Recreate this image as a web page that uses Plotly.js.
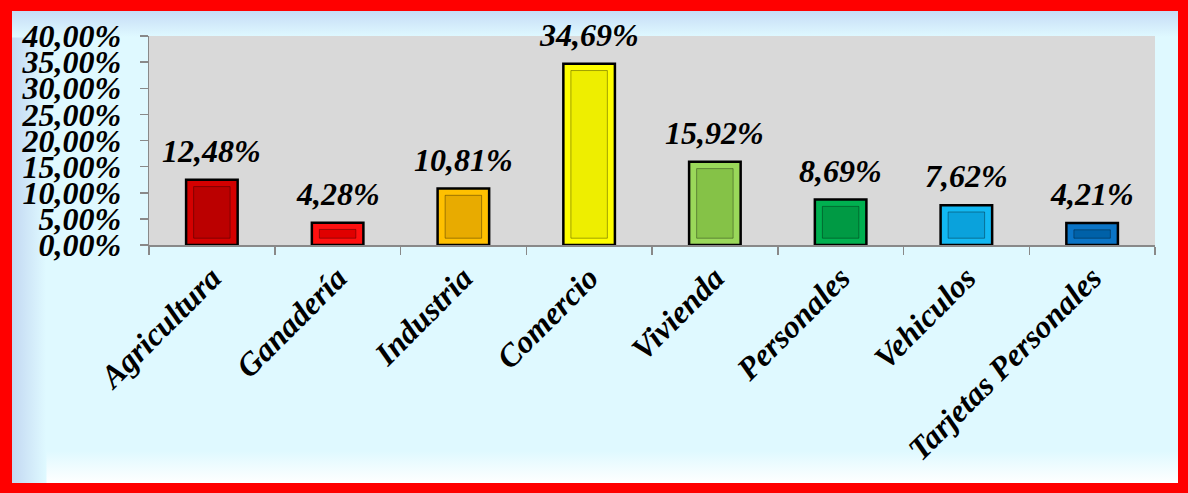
<!DOCTYPE html>
<html>
<head>
<meta charset="utf-8">
<script src="https://cdn.plot.ly/plotly-3.0.1.min.js"></script>
<style>
  html, body { margin: 0; padding: 0; width: 1188px; height: 493px; background: #ff0000; overflow: hidden; }
  #frame {
    position: absolute; left: 12px; top: 11px; width: 1166px; height: 472px;
    background:
      linear-gradient(to bottom, #c6dcf6 0px, #dff9ff 26px, rgba(223,249,255,0) 27px),
      linear-gradient(to right, #c3d8f2 0px, #dff9ff 34px, rgba(223,249,255,0) 35px),
      linear-gradient(to top, #ffffff 0px, #dff9ff 32px, #dff9ff 100%);
  }
  #chart { position: absolute; left: 0; top: 0; width: 1166px; height: 472px; }
</style>
</head>
<body>
<div id="frame"><div id="chart"></div></div>
<script>
const categories = ["Agricultura", "Ganadería", "Industria", "Comercio", "Vivienda", "Personales", "Vehiculos", "Tarjetas Personales"];
const values = [12.48, 4.28, 10.81, 34.69, 15.92, 8.69, 7.62, 4.21];
const barColors = ["#d40000", "#ff1010", "#ffc000", "#ffff00", "#9ad85a", "#00b050", "#12b8f2", "#0a74c6"];
const faceColors = ["#bb0000", "#e00000", "#e8ab00", "#eeee00", "#85c247", "#009a44", "#0aa2dc", "#0061a8"];
const yTicks = [0, 5, 10, 15, 20, 25, 30, 35, 40];

const fmt = v => v.toFixed(2).replace('.', ',') + '%';
const yTickText = yTicks.map(fmt);
const labelFont = { family: "Liberation Serif, Times New Roman, serif", size: 32, color: "#000", weight: "bold", style: "italic" };

const inset = 1.3; // bevel depth in axis units (style only)

const outer = {
  type: "bar",
  x: categories,
  y: values,
  marker: { color: barColors, line: { color: "#000000", width: 2.5 } },
  width: 0.41,
  hoverinfo: "none"
};
const face = {
  type: "bar",
  x: categories,
  y: values.map(v => Math.max(v - 2 * inset, 0.4)),
  base: values.map(v => Math.min(inset, v / 2 - 0.2)),
  marker: { color: faceColors, line: { color: "rgba(0,0,0,0.35)", width: 1 } },
  width: 0.29,
  hoverinfo: "none"
};

const annotations = categories.map((c, i) => ({
  x: c, y: values[i], xref: "x", yref: "y",
  text: fmt(values[i]), showarrow: false,
  yanchor: "bottom", xanchor: "center", yshift: 9,
  font: labelFont
}));

const layout = {
  width: 1166, height: 472,
  margin: { l: 137, r: 23, t: 25, b: 238 },
  paper_bgcolor: "rgba(0,0,0,0)",
  plot_bgcolor: "#d9d9d9",
  barmode: "overlay",
  showlegend: false,
  xaxis: {
    type: "category",
    tickangle: -45,
    ticks: "outside", tickson: "boundaries", ticklen: 8, tickcolor: "#898989", tickwidth: 1.5,
    showline: true, linecolor: "#898989", linewidth: 1.5,
    showgrid: false, zeroline: false,
    tickfont: labelFont,
    fixedrange: true
  },
  yaxis: {
    range: [0, 40],
    tickvals: yTicks,
    ticktext: yTickText,
    ticks: "outside", ticklen: 8, tickcolor: "#898989", tickwidth: 1.5,
    showline: true, linecolor: "#898989", linewidth: 1.5,
    showgrid: false, zeroline: false,
    ticklabelstandoff: 12,
    tickfont: labelFont,
    fixedrange: true
  },
  annotations: annotations
};

Plotly.newPlot("chart", [outer, face], layout, { displayModeBar: false, staticPlot: true });
</script>
</body>
</html>
